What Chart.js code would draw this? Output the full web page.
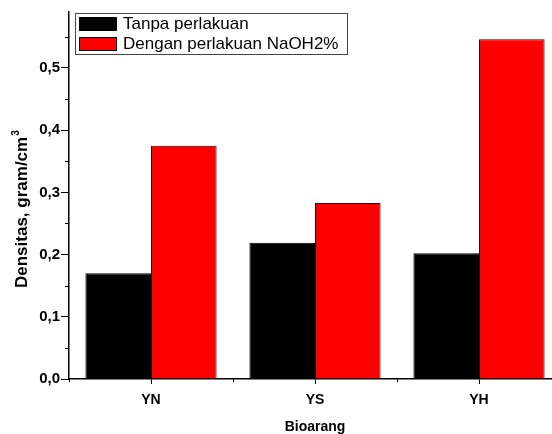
<!DOCTYPE html>
<html>
<head>
<meta charset="utf-8">
<script src="https://cdn.jsdelivr.net/npm/chart.js@4/dist/chart.umd.min.js"></script>
<style>
  html, body { margin: 0; padding: 0; background: #fff; overflow: hidden; }
  #wrap { width: 561px; height: 434px; }
</style>
</head>
<body>
<div id="wrap"><canvas id="densityChart" width="561" height="434"></canvas></div>
<script>
const categories = ['YN', 'YS', 'YH'];
const seriesNames = ['Tanpa perlakuan', 'Dengan perlakuan NaOH2%'];
const tanpaValues = [0.170, 0.219, 0.202];
const naohValues = [0.375, 0.283, 0.546];
const yMinorTicks = [0.05, 0.15, 0.25, 0.35, 0.45, 0.55];
const yTitle = 'Densitas, gram/cm';
const yTitleSup = '3';

const FONT = '"Liberation Sans", Arial, Helvetica, sans-serif';

// minor ticks on both axes, y title with superscript, boxed legend (Origin style)
const originExtras = {
  id: 'originExtras',
  afterDraw(chart) {
    const ctx = chart.ctx;
    const x = chart.scales.x, y = chart.scales.y;
    const area = chart.chartArea;
    ctx.save();
    ctx.strokeStyle = '#000';
    ctx.lineWidth = 1;
    ctx.beginPath();
    yMinorTicks.forEach(v => {
      const py = Math.round(y.getPixelForValue(v)) + 0.5;
      ctx.moveTo(area.left - 4, py);
      ctx.lineTo(area.left, py);
    });
    const half = (x.getPixelForValue(1) - x.getPixelForValue(0)) / 2;
    for (let i = 0; i < categories.length; i++) {
      const px = Math.round(x.getPixelForValue(i) - half) + 0.5;
      ctx.moveTo(px, area.bottom);
      ctx.lineTo(px, area.bottom + 3);
    }
    ctx.stroke();

    // y title
    ctx.save();
    ctx.translate(27, 288);
    ctx.rotate(-Math.PI / 2);
    ctx.fillStyle = '#000';
    ctx.textBaseline = 'alphabetic';
    ctx.font = 'bold 17px ' + FONT;
    ctx.fillText(yTitle, 0, 0);
    const w = ctx.measureText(yTitle).width;
    ctx.font = 'bold 10px ' + FONT;
    ctx.fillText(yTitleSup, w + 1, -8);
    ctx.restore();

    // legend
    const bx = 75.5, by = 13.5, bw = 272, bh = 41;
    ctx.fillStyle = '#fff';
    ctx.fillRect(bx, by, bw, bh);
    ctx.strokeStyle = '#444';
    ctx.strokeRect(bx, by, bw, bh);
    ctx.font = '17px ' + FONT;
    ctx.textBaseline = 'middle';
    chart.data.datasets.forEach((ds, i) => {
      const ry = 17 + i * 20;
      ctx.fillStyle = ds.backgroundColor;
      ctx.fillRect(79, ry, 38, 14);
      ctx.strokeStyle = '#000';
      ctx.strokeRect(79.5, ry + 0.5, 37, 13);
      ctx.fillStyle = '#000';
      ctx.fillText(ds.label, 123, ry + 7.5);
    });
    ctx.restore();
  }
};

new Chart(document.getElementById('densityChart'), {
  type: 'bar',
  data: {
    labels: categories,
    datasets: [
      { label: seriesNames[0], data: tanpaValues, backgroundColor: '#000000', borderColor: '#000000', borderWidth: 1 },
      { label: seriesNames[1], data: naohValues, backgroundColor: '#ff0000', borderColor: '#3a0000', borderWidth: 1 }
    ]
  },
  options: {
    responsive: false,
    animation: false,
    layout: { padding: { top: 12, right: 0, left: 0, bottom: 0 } },
    datasets: { bar: { categoryPercentage: 0.8, barPercentage: 1.0 } },
    plugins: { legend: { display: false }, tooltip: { enabled: false } },
    scales: {
      x: {
        afterFit(scale) { scale.height = 55; },
        grid: { offset: false, drawOnChartArea: false, tickLength: 5, color: '#000', tickColor: '#000' },
        border: { display: true, color: '#000', width: 1.5 },
        ticks: { color: '#000', padding: 8, font: { family: FONT, size: 14, weight: 'bold' } },
        title: {
          display: true, text: 'Bioarang', color: '#000',
          padding: { top: 0, bottom: 0 },
          font: { family: FONT, size: 14, weight: 'bold', lineHeight: 1 }
        }
      },
      y: {
        min: 0, max: 0.59,
        afterFit(scale) { scale.width = 69; },
        grid: { drawOnChartArea: false, tickLength: 8, color: '#000', tickColor: '#000' },
        border: { display: true, color: '#000', width: 1.5 },
        ticks: {
          stepSize: 0.1, includeBounds: false, color: '#000', padding: 1,
          font: { family: FONT, size: 15, weight: 'bold' },
          callback: v => v.toFixed(1).replace('.', ',')
        },
        title: { display: false }
      }
    }
  },
  plugins: [originExtras]
});
</script>
</body>
</html>
